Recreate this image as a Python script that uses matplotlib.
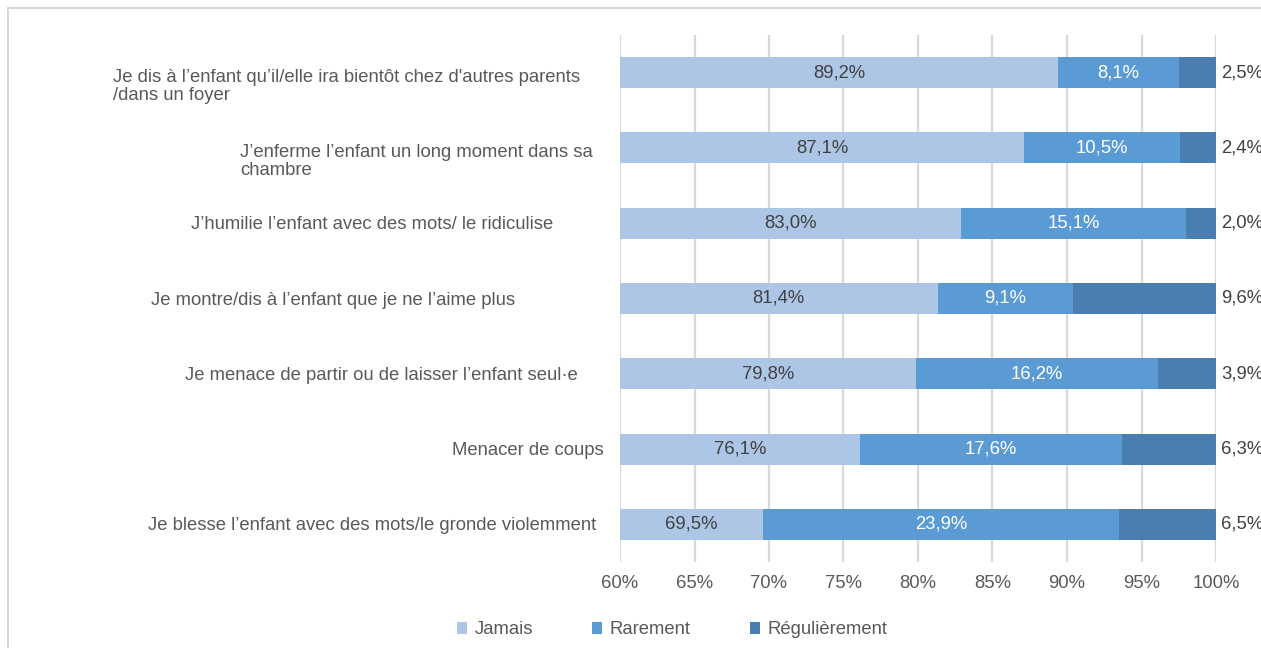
import numpy as np
import matplotlib.pyplot as plt
from matplotlib.patches import Rectangle

plt.rcParams['font.family'] = ['Liberation Sans', 'DejaVu Sans']

# data
items = [
    "Je dis à l\u2019enfant qu\u2019il/elle ira bientôt chez d'autres parents\n/dans un foyer",
    "J\u2019enferme l\u2019enfant un long moment dans sa\nchambre",
    "J\u2019humilie l\u2019enfant avec des mots/ le ridiculise",
    "Je montre/dis à l\u2019enfant que je ne l\u2019aime plus",
    "Je menace de partir ou de laisser l\u2019enfant seul\u00b7e",
    "Menacer de coups",
    "Je blesse l\u2019enfant avec des mots/le gronde violemment",
]
jamais = [89.2, 87.1, 83.0, 81.4, 79.8, 76.1, 69.5]
rarement = [8.1, 10.5, 15.1, 9.1, 16.2, 17.6, 23.9]
regulierement = [2.5, 2.4, 2.0, 9.6, 3.9, 6.3, 6.5]
series_names = ["Jamais", "Rarement", "Régulièrement"]
xticks = [60, 65, 70, 75, 80, 85, 90, 95, 100]

# layout: right edge of each category label (pixels)
label_right = [580, 593, 553, 515, 578, 604, 596]

colors = ["#adc6e5", "#5b9bd5", "#4a7eb0"]
grey = "#595959"
fs = 13.3
W, H = 1261, 648

fig = plt.figure(figsize=(W / 100, H / 100), dpi=100)
ax = fig.add_axes([620 / W, 1 - 562 / H, (1216 - 620) / W, (562 - 35) / H])

# 100% stacked: normalise rows
vals = np.array([jamais, rarement, regulierement])
norm = vals / vals.sum(axis=0) * 100
y = np.arange(len(items))
left = np.zeros(len(items))
for k in range(3):
    ax.barh(y, norm[k], left=left, height=0.41, color=colors[k],
            label=series_names[k], zorder=3)
    left += norm[k]

ax.set_xlim(60, 100)
ax.set_ylim(len(items) - 0.5, -0.5)
ax.set_xticks(xticks)
ax.set_xticklabels([f"{t}%" for t in xticks])
ax.set_yticks([])
ax.tick_params(axis='x', length=0, pad=9, labelsize=fs, labelcolor=grey)
for s in ax.spines.values():
    s.set_visible(False)
ax.grid(axis='x', color="#d9d9d9", linewidth=1.6, zorder=0)

fmt = lambda v: f"{v:.1f}%".replace(".", ",")
for i in range(len(items)):
    j_end = norm[0, i]
    ax.text((60 + j_end) / 2, i, fmt(jamais[i]), ha='center', va='center',
            fontsize=fs, color="#404040", zorder=4)
    r_end = j_end + norm[1, i]
    ax.text((j_end + r_end) / 2, i, fmt(rarement[i]), ha='center', va='center',
            fontsize=fs, color="white", zorder=4)
    ax.text(100.35, i, fmt(regulierement[i]), ha='left', va='center',
            fontsize=fs, color="#404040", clip_on=False)

    # category labels
    xa = (label_right[i] - 620) / (1216 - 620)
    dy = 0.18 if "\n" in items[i] else 0.02
    ax.text(xa, i + dy, items[i], transform=ax.get_yaxis_transform(),
            ha='right', va='center', multialignment='left', linespacing=1.08,
            fontsize=fs, color=grey, clip_on=False)

fig.legend(loc='center', bbox_to_anchor=(672 / W, 1 - 630 / H), ncol=3,
           frameon=False, fontsize=fs, labelcolor=grey,
           handlelength=0.55, handleheight=0.55, handletextpad=0.4,
           columnspacing=3.2)

# chart border
fig.patches.append(Rectangle((7.5 / W, -0.5), 2, 0.5 + 1 - 8 / H,
                             transform=fig.transFigure, fill=False,
                             edgecolor="#d9d9d9", linewidth=1.5))

fig.savefig("out.png", dpi=100)
